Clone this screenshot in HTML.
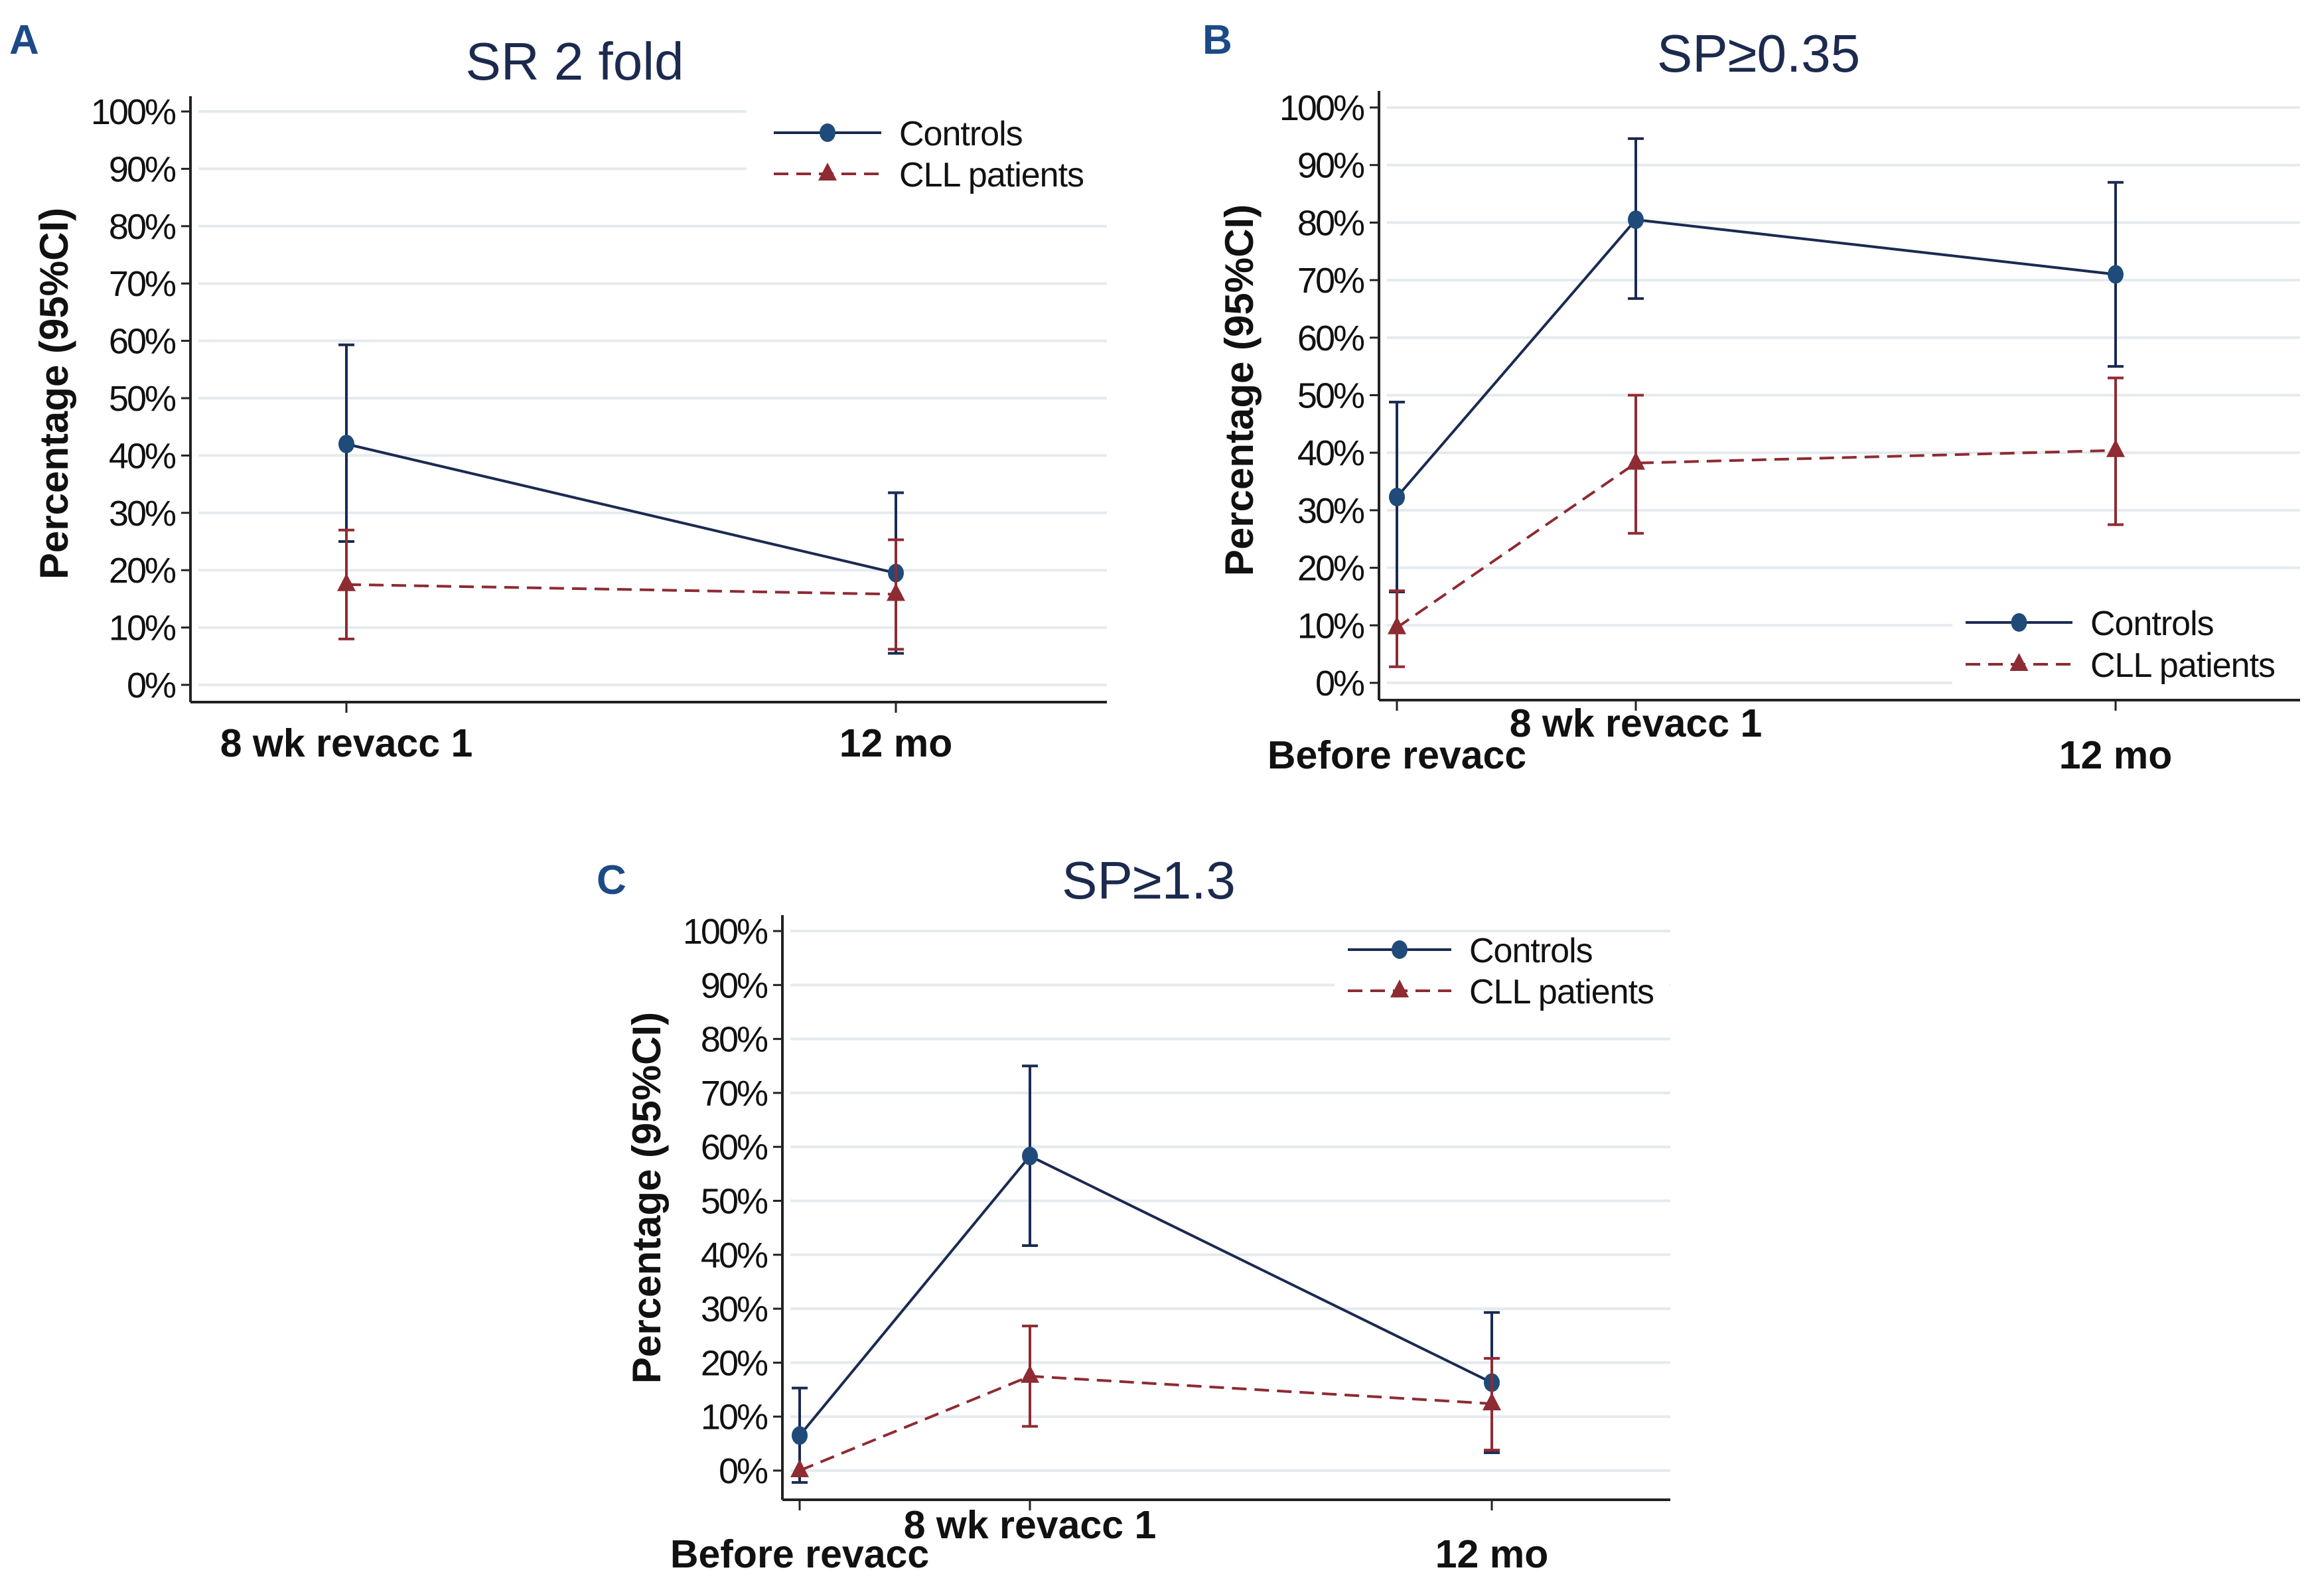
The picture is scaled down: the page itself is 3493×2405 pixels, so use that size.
<!DOCTYPE html>
<html><head><meta charset="utf-8"><style>
html,body{margin:0;padding:0;background:#fff}
svg{display:block}
text{font-family:"Liberation Sans",sans-serif}
.tick{font-size:54px;fill:#111;letter-spacing:-3px}
.xl{font-size:59px;font-weight:bold;fill:#111}
.yt{font-size:60px;font-weight:bold;fill:#111}
.ttl{font-size:80px;fill:#1c2a4e}
.lt{font-size:52px;fill:#111;letter-spacing:-1px}
.pl{font-size:62px;font-weight:bold;fill:#1c4a86}
</style></head><body>
<svg id="chart" width="3493" height="2405" viewBox="0 0 3493 2405" xmlns="http://www.w3.org/2000/svg"></svg>
<script>
const yTicks=[0,10,20,30,40,50,60,70,80,90,100];
const catsA=["8 wk revacc 1","12 mo"];
const ctrlA=[42,19.5], ctrlLoA=[25,5.5], ctrlHiA=[59.3,33.5];
const cllA=[17.5,15.8], cllLoA=[8,6.2], cllHiA=[27,25.3];
const catsB=["Before revacc","8 wk revacc 1","12 mo"];
const ctrlB=[32.3,80.5,71], ctrlLoB=[15.8,66.8,55], ctrlHiB=[48.8,94.6,87];
const cllB=[9.6,38.2,40.4], cllLoB=[2.8,26,27.5], cllHiB=[16,50,53];
const catsC=["Before revacc","8 wk revacc 1","12 mo"];
const ctrlC=[6.5,58.3,16.3], ctrlLoC=[-2.2,41.7,3.3], ctrlHiC=[15.3,75,29.3];
const cllC=[0,17.5,12.4], cllLoC=[0,8.2,3.8], cllHiC=[0,26.8,20.8];

const NS="http://www.w3.org/2000/svg";
const svg=document.getElementById('chart');
function mk(tag,attrs,parent,txt){const e=document.createElementNS(NS,tag);for(const k in attrs)e.setAttribute(k,attrs[k]);if(txt!==undefined)e.textContent=txt;(parent||svg).appendChild(e);return e;}
const NAVY="#1b2a52", BLUE="#1f4b7a", RED="#8e2b33";

function panel(P){
  const g=mk('g',{});
  
  
  const y=v=>P.y0+(P.y100-P.y0)*v/100;
  const x=i=>P.tx[i];
  const l=mk('text',{x:P.letter[0],y:P.letter[1],class:'pl'},g,P.letterText);
  
  
  const t=mk('text',{x:P.title[0],y:P.title[1],class:'ttl','text-anchor':'middle'},g,P.titleText);
  
  
  yTicks.forEach(v=>{
    const gl=mk('line',{x1:P.ax+12,x2:P.right,y1:y(v),y2:y(v),stroke:'#e4eaee','stroke-width':4},g);
    
    
    mk('line',{x1:P.ax-14,x2:P.ax,y1:y(v),y2:y(v),stroke:'#222','stroke-width':3},g);
    const tl=mk('text',{x:P.ax-24,y:y(v)+19,class:'tick','text-anchor':'end'},g,v+'%');
    
    
  });
  mk('rect',{x:P.lbox[0],y:P.lbox[1],width:P.lbox[2],height:P.lbox[3],fill:'#fff'},g);
  const ya=mk('line',{x1:P.ax,x2:P.ax,y1:P.top,y2:P.bot,stroke:'#222','stroke-width':4},g);
  
  
  const xa=mk('line',{x1:P.ax,x2:P.right,y1:P.bot,y2:P.bot,stroke:'#222','stroke-width':4},g);
  
  
  P.cats.forEach((c,i)=>{
    mk('line',{x1:x(i),x2:x(i),y1:P.bot,y2:P.bot+16,stroke:'#222','stroke-width':3},g);
    const xl=mk('text',{x:x(i),y:P.xly[i],class:'xl','text-anchor':'middle'},g,c);
    
    
  });
  const yt=mk('text',{x:0,y:0,class:'yt','text-anchor':'middle',transform:`translate(${P.ytx},${P.yty}) rotate(-90)`},g,'Percentage (95%CI)');
  
  
  function series(vals,lo,hi,color,mcolor,dash,tri,name){
    const sg=mk('g',{},g);
    
    
    vals.forEach((v,i)=>{
      if(hi[i]!==lo[i]){
        mk('line',{x1:x(i),x2:x(i),y1:y(lo[i]),y2:y(hi[i]),stroke:color,'stroke-width':4},sg);
        mk('line',{x1:x(i)-12,x2:x(i)+12,y1:y(lo[i]),y2:y(lo[i]),stroke:color,'stroke-width':4},sg);
        mk('line',{x1:x(i)-12,x2:x(i)+12,y1:y(hi[i]),y2:y(hi[i]),stroke:color,'stroke-width':4},sg);
      }
    });
    const pts=vals.map((v,i)=>x(i)+','+y(v)).join(' ');
    const pl=mk('polyline',{points:pts,fill:'none',stroke:color,'stroke-width':4,'stroke-dasharray':dash||'none'},sg);
    
    
    vals.forEach((v,i)=>{
      let m;
      if(tri) m=mk('polygon',{points:`${x(i)},${y(v)-17} ${x(i)-14},${y(v)+10} ${x(i)+14},${y(v)+10}`,fill:mcolor},sg);
      else m=mk('ellipse',{cx:x(i),cy:y(v),rx:12,ry:14,fill:mcolor},sg);
      
      
    });
  }
  series(P.ctrl,P.ctrlLo,P.ctrlHi,NAVY,BLUE,null,false,'controls-series');
  series(P.cll,P.cllLo,P.cllHi,RED,RED,'22,12',true,'cll-series');
  const lg=mk('g',{},g);
  
  
  const [lx1,lx2,ly1,ly2,ltx]=P.leg;
  const lm=(lx1+lx2)/2;
  const e1=mk('g',{},lg);
  
  
  mk('line',{x1:lx1,x2:lx2,y1:ly1,y2:ly1,stroke:NAVY,'stroke-width':4},e1);
  mk('ellipse',{cx:lm,cy:ly1,rx:12,ry:14,fill:BLUE},e1);
  mk('text',{x:ltx,y:ly1+19,class:'lt'},e1,'Controls');
  const e2=mk('g',{},lg);
  
  
  mk('line',{x1:lx1,x2:lx2,y1:ly2,y2:ly2,stroke:RED,'stroke-width':4,'stroke-dasharray':'22,12'},e2);
  mk('polygon',{points:`${lm},${ly2-17} ${lm-14},${ly2+10} ${lm+14},${ly2+10}`,fill:RED},e2);
  mk('text',{x:ltx,y:ly2+19,class:'lt'},e2,'CLL patients');
}

panel({id:'panel-a',letterText:'A',letter:[14,81],titleText:'SR 2 fold',title:[866,120],
  ax:287,y0:1032,y100:168,top:145,bot:1058,right:1668,tx:[522,1350],xly:[1140,1140],ytx:102,yty:593,
  cats:catsA,ctrl:ctrlA,ctrlLo:ctrlLoA,ctrlHi:ctrlHiA,cll:cllA,cllLo:cllLoA,cllHi:cllHiA,
  leg:[1166,1328,200,262,1355],lbox:[1125,165,545,120]});
panel({id:'panel-b',letterText:'B',letter:[1812,81],titleText:'SP≥0.35',title:[2650,108],
  ax:2078,y0:1029,y100:162,top:137,bot:1055,right:3466,tx:[2105,2465,3188],xly:[1158,1110,1158],ytx:1888,yty:588,
  cats:catsB,ctrl:ctrlB,ctrlLo:ctrlLoB,ctrlHi:ctrlHiB,cll:cllB,cllLo:cllLoB,cllHi:cllHiB,
  leg:[2962,3123,938,1001,3150],lbox:[2942,905,530,135]});
panel({id:'panel-c',letterText:'C',letter:[899,1347],titleText:'SP≥1.3',title:[1731,1354],
  ax:1179,y0:2216,y100:1403,top:1379,bot:2260,right:2517,tx:[1205,1552,2248],xly:[2362,2318,2362],ytx:995,yty:1805,
  cats:catsC,ctrl:ctrlC,ctrlLo:ctrlLoC,ctrlHi:ctrlHiC,cll:cllC,cllLo:cllLoC,cllHi:cllHiC,
  leg:[2031,2187,1431,1493,2214],lbox:[2011,1410,505,110]});
</script>
</body></html>
